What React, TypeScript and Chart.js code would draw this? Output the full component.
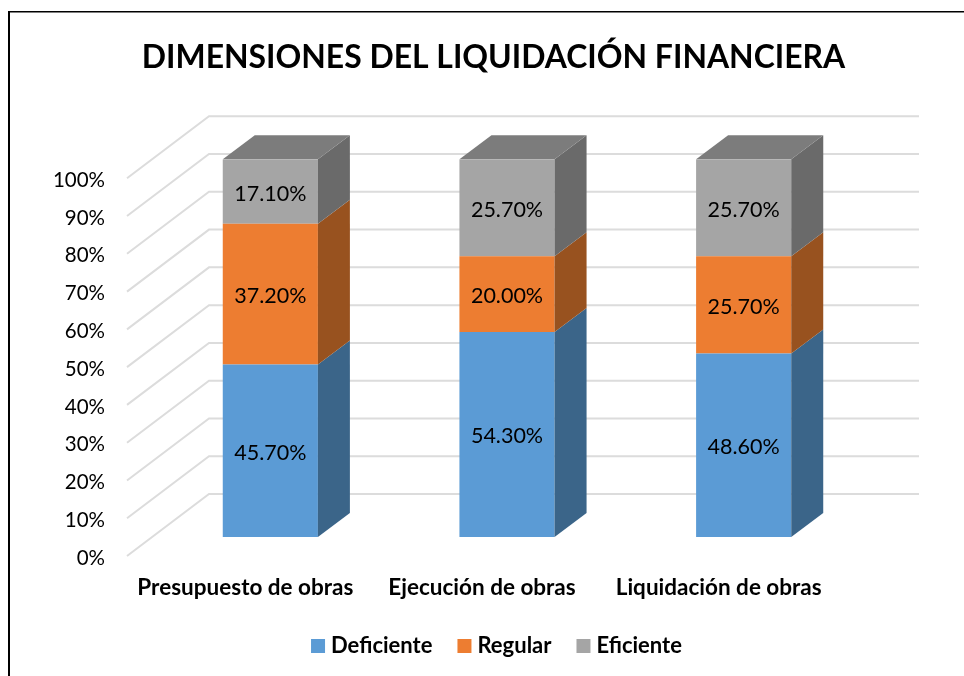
import React, { useEffect, useRef } from "react";
import { Chart, registerables } from "chart.js";

Chart.register(...registerables);

const categories = ["Presupuesto de obras", "Ejecución de obras", "Liquidación de obras"];
const deficiente = [45.7, 54.3, 48.6];
const regular = [37.2, 20.0, 25.7];
const eficiente = [17.1, 25.7, 25.7];
const yTicks = [0, 10, 20, 30, 40, 50, 60, 70, 80, 90, 100];
const titleText = "DIMENSIONES DEL LIQUIDACIÓN FINANCIERA";

const FONT = "Lato, Carlito, Calibri, sans-serif";
const WALL_DX = 82;
const WALL_DY = 62;
const RIGHT_END = 919;
const BAR_DX = 25;
const BAR_DY = 19;
const DEPTH_DX = 32;
const DEPTH_DY = 24;

const sideColors = ["#3b6589", "#98521f", "#6a6a6a"];
const topColor = "#7c7c7c";

const threeD = {
  id: "threeD",
  afterLayout(chart: any) {
    chart.titleBlock.left += 70;
    chart.titleBlock.right += 70;
    chart.titleBlock.top -= 1;
    chart.titleBlock.bottom -= 1;
    chart.legend.left += 75.5;
    chart.legend.right += 75.5;
    chart.legend.top -= 6;
    chart.legend.bottom -= 6;
  },
  beforeDatasetsDraw(chart: any) {
    const { ctx } = chart;
    const y = chart.scales.y;
    const left = chart.chartArea.left;
    ctx.save();
    ctx.strokeStyle = "#dcdcdc";
    ctx.lineWidth = 2;
    yTicks.forEach((t) => {
      const py = y.getPixelForValue(t);
      ctx.beginPath();
      ctx.moveTo(left, py);
      ctx.lineTo(left + WALL_DX, py - WALL_DY);
      ctx.lineTo(RIGHT_END, py - WALL_DY);
      ctx.stroke();
    });
    ctx.restore();
    ctx.save();
    ctx.translate(BAR_DX, -BAR_DY);
  },
  afterDatasetsDraw(chart: any) {
    const { ctx } = chart;
    const n = chart.data.datasets.length;
    chart.data.datasets.forEach((_: any, di: number) => {
      chart.getDatasetMeta(di).data.forEach((bar: any) => {
        const r = bar.x + bar.width / 2;
        const l = bar.x - bar.width / 2;
        ctx.fillStyle = sideColors[di];
        ctx.beginPath();
        ctx.moveTo(r, bar.y);
        ctx.lineTo(r + DEPTH_DX, bar.y - DEPTH_DY);
        ctx.lineTo(r + DEPTH_DX, bar.base - DEPTH_DY);
        ctx.lineTo(r, bar.base);
        ctx.closePath();
        ctx.fill();
        if (di === n - 1) {
          ctx.fillStyle = topColor;
          ctx.beginPath();
          ctx.moveTo(l, bar.y);
          ctx.lineTo(l + DEPTH_DX, bar.y - DEPTH_DY);
          ctx.lineTo(r + DEPTH_DX, bar.y - DEPTH_DY);
          ctx.lineTo(r, bar.y);
          ctx.closePath();
          ctx.fill();
        }
      });
    });
    ctx.fillStyle = "#000000";
    ctx.font = `21.5px ${FONT}`;
    ctx.textAlign = "center";
    ctx.textBaseline = "middle";
    chart.data.datasets.forEach((ds: any, di: number) => {
      chart.getDatasetMeta(di).data.forEach((bar: any, i: number) => {
        ctx.fillText(`${ds.data[i].toFixed(2)}%`, bar.x, (bar.y + bar.base) / 2 + 2);
      });
    });
    ctx.restore();
    ctx.save();
    ctx.strokeStyle = "#000000";
    ctx.lineWidth = 1.5;
    ctx.beginPath();
    ctx.moveTo(964, 11.75);
    ctx.lineTo(9, 11.75);
    ctx.stroke();
    ctx.lineWidth = 2;
    ctx.beginPath();
    ctx.moveTo(9, 11);
    ctx.lineTo(9, 676);
    ctx.stroke();
    ctx.restore();
  },
};

export default function App() {
  const ref = useRef<HTMLCanvasElement>(null);
  useEffect(() => {
    const chart = new Chart(ref.current as HTMLCanvasElement, {
      type: "bar",
      data: {
        labels: categories,
        datasets: [
          { label: "Deficiente", data: deficiente, backgroundColor: "#5b9bd5" },
          { label: "Regular", data: regular, backgroundColor: "#ed7d31" },
          { label: "Eficiente", data: eficiente, backgroundColor: "#a5a5a5" },
        ],
      },
      options: {
        responsive: false,
        animation: false,
        events: [],
        layout: { padding: { left: 10, right: 127, top: 40, bottom: 3 } },
        datasets: { bar: { barPercentage: 0.402, categoryPercentage: 1 } },
        plugins: {
          tooltip: { enabled: false },
          title: {
            display: true,
            text: titleText,
            color: "#000000",
            font: { family: FONT, size: 31.9, weight: "bold" },
            padding: { top: 0, bottom: 100 },
          },
          legend: {
            position: "bottom",
            labels: {
              color: "#000000",
              font: { family: FONT, size: 22, weight: "bold" },
              usePointStyle: true,
              pointStyle: "rect",
              boxWidth: 4,
              boxHeight: 14,
              padding: 30,
            },
          },
        },
        scales: {
          x: {
            stacked: true,
            grid: { display: false },
            border: { display: false },
            ticks: {
              color: "#000000",
              font: { family: FONT, size: 22.5, weight: "bold" },
              maxRotation: 0,
              padding: 10,
            },
          },
          y: {
            stacked: true,
            min: 0,
            max: 100,
            grid: { display: false },
            border: { display: false },
            afterFit: (s: any) => {
              s.width = 117;
            },
            ticks: {
              stepSize: 10,
              color: "#000000",
              font: { family: FONT, size: 20.5 },
              padding: 14,
              labelOffset: 2,
              callback: (v: any) => `${v}%`,
            },
          },
        },
      },
      plugins: [threeD],
    } as any);
    return () => chart.destroy();
  }, []);
  return (
    <div style={{ position: "absolute", left: 0, top: 0, width: 964, height: 676 }}>
      <canvas ref={ref} width={964} height={676} style={{ display: "block" }} />
    </div>
  );
}
